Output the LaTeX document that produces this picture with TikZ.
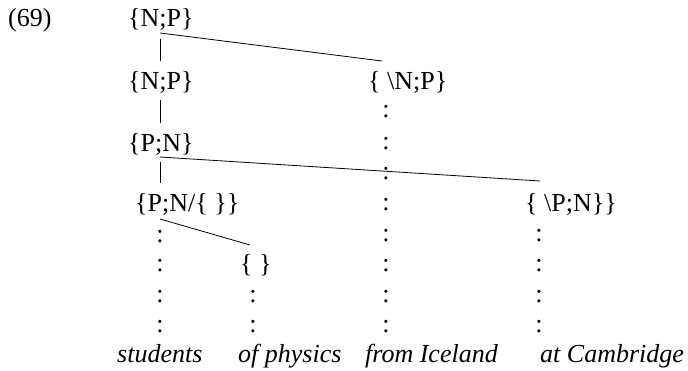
\documentclass[tikz,border=0pt]{standalone}
\usepackage{fontspec}
\setmainfont{Liberation Serif}
\begin{document}
\begin{tikzpicture}[x=1pt,y=-1pt,
  lbl/.style={inner sep=0pt,anchor=base west,font=\fontsize{26}{31}\selectfont},
  wrd/.style={inner sep=0pt,anchor=base west,font=\fontsize{26}{31}\selectfont\itshape},
  dts/.style={inner sep=0pt,anchor=center,font=\fontsize{26}{31}\selectfont},
  edge/.style={line width=0.8pt}]
\useasboundingbox (0,0) rectangle (688,371);
% labels
\node[lbl] (ex) at (8,27) {(69)};
\node[lbl] (np1) at (128,27) {\{N;P\}};
\node[lbl] (np2) at (128,90) {\{N;P\}};
\node[lbl] (bnp) at (368,90) {\{ \textbackslash N;P\}};
\node[lbl] (pn) at (128,152) {\{P;N\}};
\node[lbl] (pnx) at (135,212) {\{P;N/\{\ \}\}};
\node[lbl] (bpn) at (525,212) {\{ \textbackslash P;N\}\}};
\node[lbl] (emp) at (240,273) {\{\ \}};
% words
\node[wrd] (w1) at (117,362) {students};
\node[wrd] (w2) at (238,362) {of physics};
\node[wrd] (w3) at (365,362) {from Iceland};
\node[wrd] (w4) at (540,362) {at Cambridge};
% colons
\foreach \y [count=\i] in {237,266,297,327} \node[dts] (ca\i) at (160,\y) {:};
\foreach \y [count=\i] in {297,327} \node[dts] (cb\i) at (253,\y) {:};
\foreach \y [count=\i] in {112,144,174,205,236,266,297,327} \node[dts] (cc\i) at (386,\y) {:};
\foreach \y [count=\i] in {236,266,297,327} \node[dts] (cd\i) at (539,\y) {:};
% connector endpoints
\coordinate (t1) at (160,33);
\coordinate (t2) at (382,61);
\coordinate (v1a) at (160,39);
\coordinate (v1b) at (160,61);
\coordinate (v2a) at (160,100);
\coordinate (v2b) at (160,123);
\coordinate (m1) at (160,157);
\coordinate (m2) at (540,181);
\coordinate (v3a) at (160,162);
\coordinate (v3b) at (160,183);
\coordinate (s1) at (160,219);
\coordinate (s2) at (250,245);
\draw[edge] (t1) -- (t2);
\draw[edge] (v1a) -- (v1b);
\draw[edge] (v2a) -- (v2b);
\draw[edge] (m1) -- (m2);
\draw[edge] (v3a) -- (v3b);
\draw[edge] (s1) -- (s2);
\end{tikzpicture}
\end{document}
